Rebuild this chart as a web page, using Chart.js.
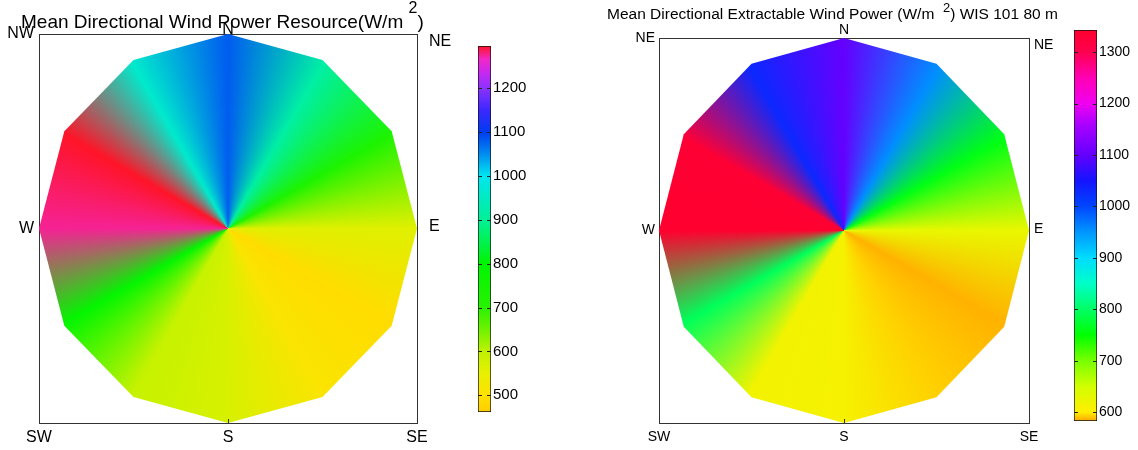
<!DOCTYPE html>
<html><head><meta charset="utf-8">
<script src="https://cdn.jsdelivr.net/npm/chart.js@4.4.0/dist/chart.umd.min.js"></script>
<style>
html,body{margin:0;padding:0;background:#fff;}
#wrap{position:relative;width:1138px;height:450px;overflow:hidden;background:#fff;}
canvas{position:absolute;top:0;}
</style></head><body>
<div id="wrap">
 <canvas id="c1" width="460" height="450" style="left:0px"></canvas>
 <canvas id="c2" width="100" height="450" style="left:460px"></canvas>
 <canvas id="c3" width="460" height="450" style="left:600px"></canvas>
 <canvas id="c4" width="78" height="450" style="left:1060px"></canvas>
</div>
<script>
// ---------------- DATA ----------------
const directions = [0, 30, 60, 90, 120, 150, 180, 210, 240, 270, 300, 330];   // degrees clockwise from N
const resourceValues    = [1080, 915, 730, 560, 490, 510, 570, 590, 790, 1275, 1296, 960];   // W/m^2
const extractableValues = [1100, 955, 760, 625, 586, 593, 610, 615, 795, 1340, 1335, 1030];  // W/m^2

const leftBottomLabels = ['SW', 'S', 'SE'];
const leftTopLabels    = ['', 'N', ''];
const leftWestLabels   = ['', 'W', 'NW'];
const leftEastLabels   = ['', 'E', 'NE'];
const rightBottomLabels = ['SW', 'S', 'SE'];
const rightTopLabels    = ['', 'N', ''];
const rightWestLabels   = ['', 'W', 'NE'];
const rightEastLabels   = ['', 'E', 'NE'];

const resourceTicks    = [500, 600, 700, 800, 900, 1000, 1100, 1200];
const extractableTicks = [600, 700, 800, 900, 1000, 1100, 1200, 1300];
const resourceRange    = [462, 1296];
const extractableRange = [583, 1343];

const leftTitle  = ['Mean Directional Wind Power Resource(W/m ', '2', ')'];
const rightTitle = ['Mean Directional Extractable Wind Power (W/m  ', '2', ') WIS 101 80 m'];

// ---------------- STYLE (colormaps) ----------------
const resourceCmap = [
  [462,[255,205,0]],[500,[255,225,0]],[550,[232,240,0]],[600,[190,242,0]],[650,[110,242,0]],
  [700,[40,242,0]],[800,[0,245,0]],[850,[0,242,80]],[900,[0,240,150]],[1000,[0,230,240]],
  [1050,[0,140,240]],[1100,[0,60,240]],[1150,[60,40,255]],[1200,[140,50,255]],[1235,[200,40,240]],
  [1265,[240,40,200]],[1296,[255,20,40]]
];
const extractableCmap = [
  [583,[255,165,0]],[600,[255,238,0]],[650,[210,255,0]],[700,[120,255,0]],[750,[0,255,0]],
  [800,[0,255,100]],[850,[0,255,200]],[900,[0,220,255]],[950,[0,150,255]],[1000,[0,70,255]],
  [1050,[20,20,255]],[1100,[100,0,255]],[1160,[170,0,255]],[1200,[240,0,240]],[1250,[255,0,180]],
  [1300,[255,0,80]],[1343,[255,0,45]]
];
const FONT = 'Liberation Sans, Arial, Helvetica, sans-serif';

function cmapColor(stops, v){
  if (v <= stops[0][0]) return stops[0][1];
  for (let i = 1; i < stops.length; i++){
    if (v <= stops[i][0]){
      const [v0,c0] = stops[i-1], [v1,c1] = stops[i];
      const t = (v - v0) / (v1 - v0);
      return c0.map((c,k) => Math.round(c + (c1[k] - c) * t));
    }
  }
  return stops[stops.length-1][1];
}
const rgb = c => `rgb(${c[0]},${c[1]},${c[2]})`;

// ---------------- PLUGINS ----------------
const rosePlugin = {
  id: 'rose',
  beforeDatasetsDraw(chart, args, opts){
    const meta = chart.getDatasetMeta(0);
    const ctx = chart.ctx;
    const cx = chart.scales.x.getPixelForValue(0), cy = chart.scales.y.getPixelForValue(0);
    const cols = opts.values.map(v => cmapColor(opts.cmap, v));
    const pts = meta.data;
    ctx.save();
    if (ctx.createConicGradient){
      ctx.beginPath();
      pts.forEach((p,i) => i ? ctx.lineTo(p.x,p.y) : ctx.moveTo(p.x,p.y));
      ctx.closePath();
      const g = ctx.createConicGradient(-Math.PI/2, cx, cy);
      opts.directions.forEach((d,i) => g.addColorStop(d/360, rgb(cols[i])));
      g.addColorStop(1, rgb(cols[0]));
      ctx.fillStyle = g;
      ctx.fill();
    } else {
      const n = pts.length, K = 40;
      for (let i = 0; i < n; i++){
        const a = pts[i], b = pts[(i+1)%n], ca = cols[i], cb = cols[(i+1)%n];
        for (let k = 0; k < K; k++){
          const s0 = k/K, s1 = (k+1)/K, t = (k+0.5)/K;
          const c = ca.map((v,j) => Math.round(v + (cb[j]-v)*t));
          ctx.beginPath();
          ctx.moveTo(cx, cy);
          ctx.lineTo(a.x + (b.x-a.x)*s0, a.y + (b.y-a.y)*s0);
          ctx.lineTo(a.x + (b.x-a.x)*s1, a.y + (b.y-a.y)*s1);
          ctx.closePath();
          ctx.fillStyle = rgb(c); ctx.strokeStyle = rgb(c); ctx.lineWidth = 0.6;
          ctx.fill(); ctx.stroke();
        }
      }
    }
    ctx.restore();
  },
  afterDraw(chart){
    // small inward tick marks on the bottom axis
    const ctx = chart.ctx, xs = chart.scales.x, bottom = chart.chartArea.bottom;
    ctx.save(); ctx.strokeStyle = '#333'; ctx.lineWidth = 1;
    xs.ticks.forEach(t => {
      const px = Math.round(xs.getPixelForValue(t.value)) + 0.5;
      ctx.beginPath(); ctx.moveTo(px, bottom); ctx.lineTo(px, bottom - 4); ctx.stroke();
    });
    ctx.restore();
  }
};

const titlePlugin = {
  id: 'supTitle',
  afterDraw(chart, args, o){
    const ctx = chart.ctx;
    ctx.save(); ctx.fillStyle = '#000'; ctx.textBaseline = 'alphabetic'; ctx.textAlign = 'left';
    let x = o.x;
    o.parts.forEach((txt, i) => {
      const sup = (i === 1);
      ctx.font = `${sup ? o.supSize : o.size}px ${FONT}`;
      ctx.fillText(txt, x, sup ? o.y - o.supRise : o.y);
      x += ctx.measureText(txt).width;
    });
    ctx.restore();
  }
};

const cbTickPlugin = {
  id: 'cbTicks',
  afterDatasetsDraw(chart){
    const ctx = chart.ctx, ys = chart.scales.y, a = chart.chartArea;
    ctx.save(); ctx.strokeStyle = '#222'; ctx.lineWidth = 1;
    ys.ticks.forEach(t => {
      const py = Math.round(ys.getPixelForValue(t.value)) + 0.5;
      ctx.beginPath();
      ctx.moveTo(a.left, py); ctx.lineTo(a.left + 4, py);
      ctx.moveTo(a.right - 4, py); ctx.lineTo(a.right, py);
      ctx.stroke();
    });
    ctx.restore();
  }
};

// ---------------- BUILDERS ----------------
function plotChart(canvasId, cfg){
  const verts = directions.map(d => ({x: Math.sin(d*Math.PI/180), y: Math.cos(d*Math.PI/180)}));
  const axis = (axisDir, pos, labels, size, pad, min, max) => ({
    type: 'linear', axis: axisDir, position: pos, min: min, max: max,
    grid: {display: false, drawTicks: false},
    border: {display: true, color: '#333', width: 1},
    ticks: {font: {family: FONT, size: cfg.font}, color: '#000', padding: pad,
            maxRotation: 0, autoSkip: false, callback: (v, i) => labels[i]},
    afterBuildTicks: s => { s.ticks = [-1, 0, 1].map(v => ({value: v})); },
    afterFit: s => { if (s.isHorizontal()) s.height = size; else s.width = size; }
  });
  return new Chart(document.getElementById(canvasId), {
    type: 'scatter',
    data: {datasets: [{data: verts, pointRadius: 0, pointHoverRadius: 0, showLine: false}]},
    options: {
      responsive: false, animation: false, devicePixelRatio: 1, events: [],
      layout: {padding: 0},
      scales: {
        x:  axis('x', 'bottom', cfg.bottom, cfg.box.bottomH, cfg.pad.bottom, -1, 1),
        x2: axis('x', 'top', cfg.top, cfg.box.topH, cfg.pad.top, -1, 1),
        y:  axis('y', 'left', cfg.west, cfg.box.leftW, cfg.pad.left, -1, 1),
        y2: axis('y', 'right', cfg.east, cfg.box.rightW, cfg.pad.right, -1.06, 1.04)
      },
      plugins: {
        legend: {display: false}, tooltip: {enabled: false},
        rose: {values: cfg.values, directions: directions, cmap: cfg.cmap},
        supTitle: cfg.title
      }
    },
    plugins: [rosePlugin, titlePlugin]
  });
}

function colorbarChart(canvasId, cfg){
  const [lo, hi] = cfg.range;
  return new Chart(document.getElementById(canvasId), {
    type: 'bar',
    data: {labels: [''], datasets: [{
      data: [[lo, hi]],
      backgroundColor: (c) => {
        const ch = c.chart, ys = ch.scales.y;
        if (!ch.chartArea || !ys) return '#ccc';
        const g = ch.ctx.createLinearGradient(0, ys.getPixelForValue(lo), 0, ys.getPixelForValue(hi));
        cfg.cmap.forEach(([v, col]) => g.addColorStop((v - lo) / (hi - lo), rgb(col)));
        return g;
      },
      borderColor: '#111', borderWidth: 1, borderSkipped: false,
      barPercentage: 1, categoryPercentage: 1
    }]},
    options: {
      responsive: false, animation: false, devicePixelRatio: 1, events: [],
      layout: {padding: cfg.padding},
      scales: {
        x: {display: false},
        y: {
          type: 'linear', position: 'right', min: lo, max: hi,
          grid: {display: false, drawTicks: false},
          border: {display: false},
          ticks: {font: {family: FONT, size: cfg.font}, color: '#000', padding: cfg.tickPad,
                  autoSkip: false, callback: v => String(v)},
          afterBuildTicks: s => { s.ticks = cfg.ticks.map(v => ({value: v})); },
          afterFit: s => { s.width = cfg.axisW; }
        }
      },
      plugins: {legend: {display: false}, tooltip: {enabled: false}}
    },
    plugins: [cbTickPlugin]
  });
}

// ---------------- CHARTS ----------------
plotChart('c1', {
  values: resourceValues, cmap: resourceCmap, font: 16,
  bottom: leftBottomLabels, top: leftTopLabels, west: leftWestLabels, east: leftEastLabels,
  box: {leftW: 39, rightW: 43, topH: 34, bottomH: 27},
  pad: {bottom: 5, top: -5, left: 5, right: 12},
  title: {parts: leftTitle, x: 21, y: 28, size: 19, supSize: 16, supRise: 15}
});
colorbarChart('c2', {
  range: resourceRange, cmap: resourceCmap, ticks: resourceTicks, font: 15,
  padding: {left: 18, top: 46, bottom: 38, right: 0}, axisW: 69, tickPad: 2
});
plotChart('c3', {
  values: extractableValues, cmap: extractableCmap, font: 14,
  bottom: rightBottomLabels, top: rightTopLabels, west: rightWestLabels, east: rightEastLabels,
  box: {leftW: 59, rightW: 31, topH: 38, bottomH: 27},
  pad: {bottom: 6, top: -1, left: 4, right: 5},
  title: {parts: rightTitle, x: 7, y: 19, size: 15.5, supSize: 13, supRise: 7}
});
colorbarChart('c4', {
  range: extractableRange, cmap: extractableCmap, ticks: extractableTicks, font: 14,
  padding: {left: 14, top: 30, bottom: 29, right: 0}, axisW: 41, tickPad: 2
});
</script>
</body></html>
